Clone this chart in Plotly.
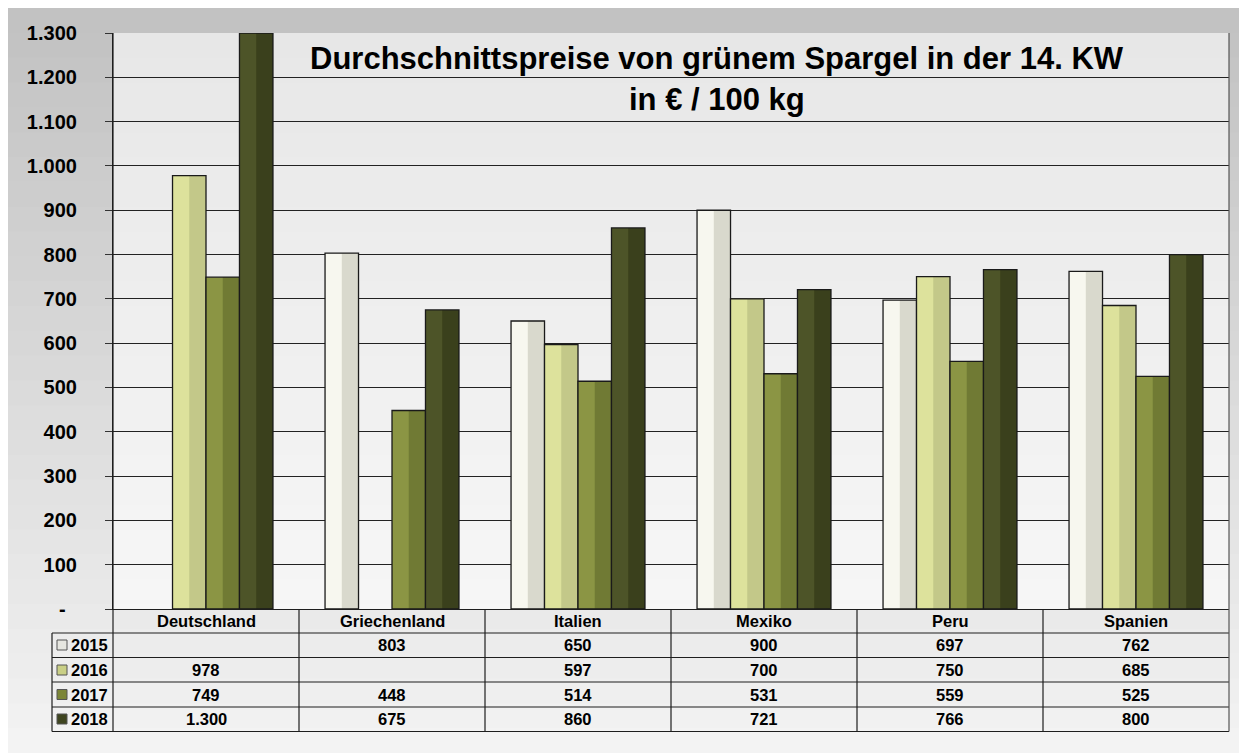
import plotly.graph_objects as go

# ---------------- data ----------------
categories = ["Deutschland", "Griechenland", "Italien", "Mexiko", "Peru", "Spanien"]
years = ["2015", "2016", "2017", "2018"]
v2015 = [None, 803, 650, 900, 697, 762]
v2016 = [978, None, 597, 700, 750, 685]
v2017 = [749, 448, 514, 531, 559, 525]
v2018 = [1300, 675, 860, 721, 766, 800]
series = [v2015, v2016, v2017, v2018]
y_tickvals = [0, 100, 200, 300, 400, 500, 600, 700, 800, 900, 1000, 1100, 1200, 1300]

title_1 = "Durchschnittspreise von grünem Spargel in der 14. KW"
title_2 = "in € / 100 kg"

# ---------------- styles ----------------
light_cols = ["#f7f7ef", "#dde29c", "#8b9544", "#4d5428"]
dark_cols = ["#d9d9cd", "#c3c889", "#707a34", "#3a401c"]
key_cols = ["#e6e6e0", "#c9cf86", "#7c8638", "#3f4520"]
FONT = "Liberation Sans"

OFF = 8                      # page body margin
FW, FH = 1239, 745           # figure size
L, R, T, B = 113, 1229, 33, 609   # plot area in screen pixels


def py(ypx):
    return (B - ypx) / (B - T)


def px(xpx):
    return (xpx - L) / (R - L)


def de_num(v):
    return "" if v is None else f"{v:,}".replace(",", ".")


def de_tick(v):
    return "-\u00a0\u00a0" if v == 0 else de_num(v)


fig = go.Figure()

w = 0.18
for i, (yr, vals) in enumerate(zip(years, series)):
    off = -2 * w + i * w
    fig.add_trace(go.Bar(x=categories, y=vals, width=w, offset=off,
                         marker=dict(color=light_cols[i], line=dict(width=0)),
                         name=yr, showlegend=False, hoverinfo="skip"))
    fig.add_trace(go.Bar(x=categories, y=vals, width=w / 2, offset=off + w / 2,
                         marker=dict(color=dark_cols[i], line=dict(width=0)),
                         showlegend=False, hoverinfo="skip"))
    fig.add_trace(go.Bar(x=categories, y=vals, width=w, offset=off,
                         marker=dict(color="rgba(0,0,0,0)", line=dict(width=1.3, color="#1a1a1a")),
                         showlegend=False, name=yr))

shapes = []
# background gradient bands (paper)
nb = 30
top_c = (194, 194, 194)
bot_c = (243, 243, 243)
for k in range(nb):
    a = OFF + FH * k / nb
    b = OFF + FH * (k + 1) / nb + 1
    t = k / (nb - 1)
    c = tuple(int(top_c[j] + (bot_c[j] - top_c[j]) * t) for j in range(3))
    shapes.append(dict(type="rect", xref="paper", yref="paper", layer="below",
                       x0=px(OFF), x1=px(OFF + FW), y0=py(b), y1=py(a),
                       fillcolor=f"rgb{c}", line=dict(width=0)))
# lighter plot area
shapes.append(dict(type="rect", xref="paper", yref="paper", layer="below",
                   x0=0, x1=1, y0=0, y1=1, fillcolor="rgba(255,255,255,0.6)", line=dict(width=0)))

LINE = dict(color="#1e1e1e", width=1.2)
rows_y = [633, 657.5, 682, 707, 731.5]
for yy in rows_y:
    shapes.append(dict(type="line", xref="paper", yref="paper",
                       x0=px(52), x1=px(R), y0=py(yy), y1=py(yy), line=LINE))
shapes.append(dict(type="line", xref="paper", yref="paper",
                   x0=px(52), x1=px(52), y0=py(rows_y[0]), y1=py(rows_y[-1]), line=LINE))
shapes.append(dict(type="line", xref="paper", yref="paper",
                   x0=0, x1=0, y0=1, y1=py(rows_y[-1]), line=LINE))
shapes.append(dict(type="line", xref="paper", yref="paper",
                   x0=1, x1=1, y0=1, y1=py(rows_y[-1]), line=dict(color="#555", width=1.2)))
for k in range(1, len(categories)):
    shapes.append(dict(type="line", xref="x", yref="paper",
                       x0=k - 0.5, x1=k - 0.5, y0=0, y1=py(rows_y[-1]), line=LINE))

annotations = []
annotations.append(dict(text=title_1, xref="paper", yref="paper", x=px(717), y=py(59),
                        showarrow=False, xanchor="center", yanchor="middle",
                        font=dict(family=FONT, size=31, color="#000", weight="bold")))
annotations.append(dict(text=title_2, xref="paper", yref="paper", x=px(717), y=py(100),
                        showarrow=False, xanchor="center", yanchor="middle",
                        font=dict(family=FONT, size=31, color="#000", weight="bold")))

TF = dict(family=FONT, size=16.5, color="#000", weight="bold")
for c in categories:
    annotations.append(dict(text=c, xref="x", yref="paper", x=c, y=py(621),
                            showarrow=False, xanchor="center", yanchor="middle", font=TF))
row_centers = [645, 670, 694.5, 719]
for i, (yr, vals) in enumerate(zip(years, series)):
    yc = row_centers[i]
    for c, v in zip(categories, vals):
        if v is not None:
            annotations.append(dict(text=de_num(v), xref="x", yref="paper", x=c, y=py(yc),
                                    showarrow=False, xanchor="center", yanchor="middle", font=TF))
    annotations.append(dict(text=yr, xref="paper", yref="paper", x=px(69), y=py(yc),
                            showarrow=False, xanchor="left", yanchor="middle", font=TF))
    shapes.append(dict(type="rect", xref="paper", yref="paper",
                       x0=px(57), x1=px(67), y0=py(yc + 5), y1=py(yc - 5),
                       fillcolor=key_cols[i], line=dict(color="#555", width=1)))

fig.update_layout(
    width=FW, height=FH,
    margin=dict(l=L - OFF, r=FW + OFF - R, t=T - OFF, b=FH + OFF - B),
    paper_bgcolor="white",
    plot_bgcolor="rgba(0,0,0,0)",
    barmode="overlay",
    showlegend=False,
    shapes=shapes,
    annotations=annotations,
    xaxis=dict(range=[-0.5, len(categories) - 0.5], showticklabels=False, showgrid=False,
               showline=True, linecolor="#1e1e1e", linewidth=1.2, zeroline=False, ticks=""),
    yaxis=dict(range=[0, 1300], tickvals=y_tickvals, ticktext=[de_tick(v) for v in y_tickvals],
               tickfont=dict(family=FONT, size=20, color="#000", weight="bold"),
               ticks="outside", ticklen=7, tickcolor="#333", tickwidth=1.2,
               ticklabelstandoff=24,
               showgrid=True, gridcolor="#222", gridwidth=1.2,
               showline=True, linecolor="#1e1e1e", linewidth=1.2, zeroline=False),
)

fig.write_html("out.html")
